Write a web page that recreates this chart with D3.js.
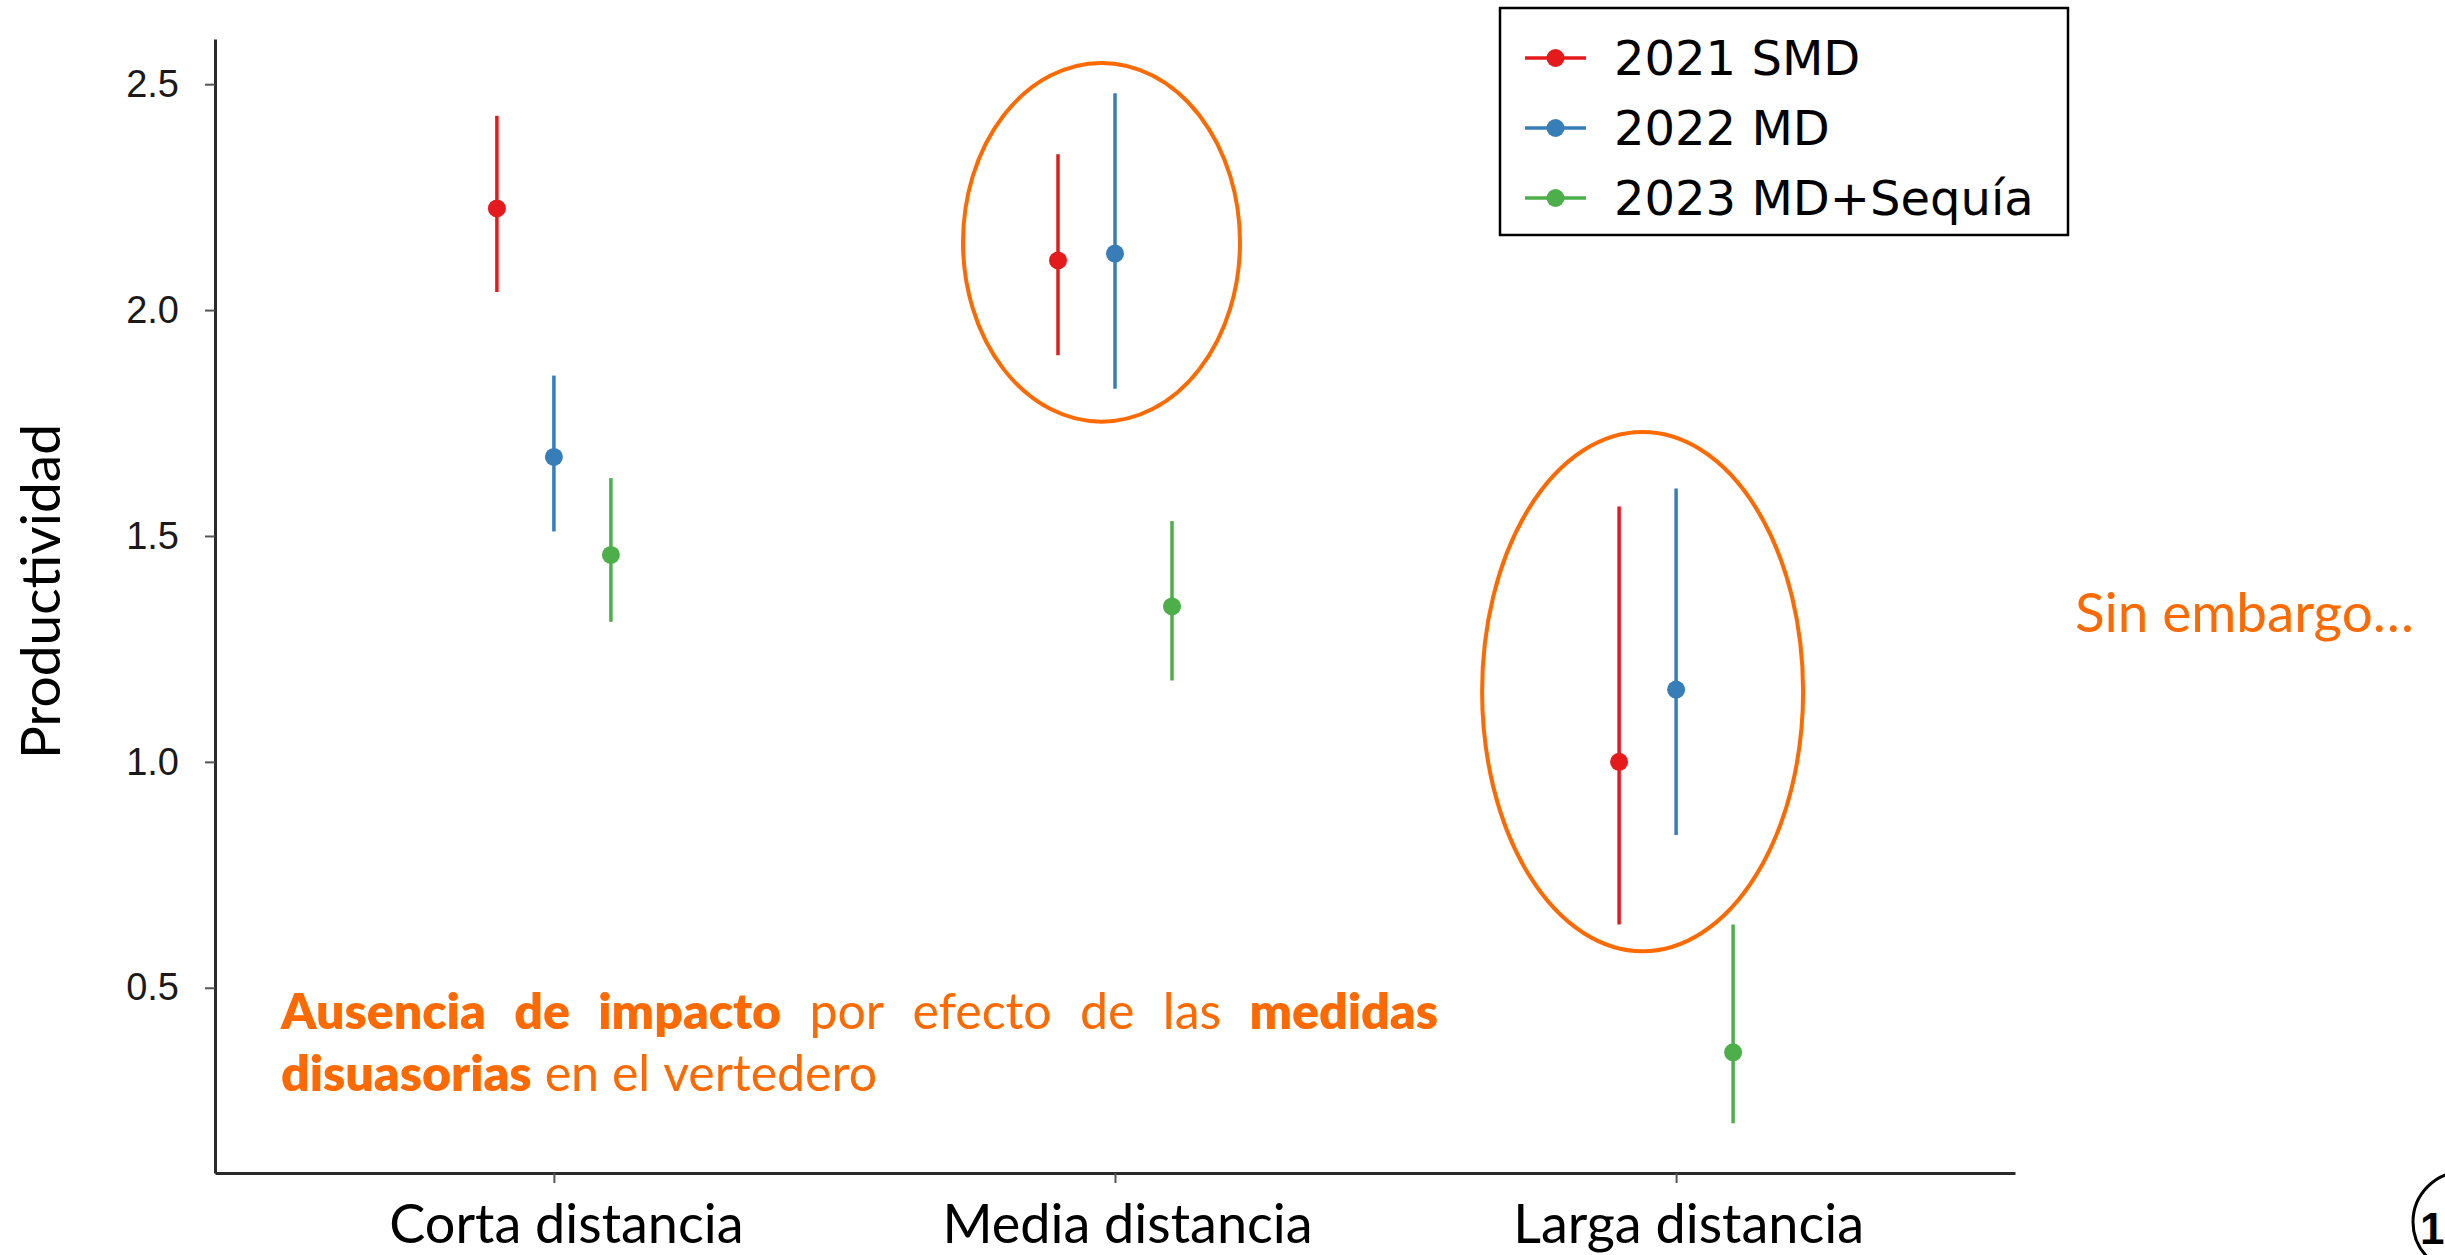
<!DOCTYPE html>
<html>
<head>
<meta charset="utf-8">
<script src="https://cdn.jsdelivr.net/npm/d3@7"></script>
<style>
  html, body { margin: 0; padding: 0; background: #fff; overflow: hidden; }
  svg { display: block; }
</style>
</head>
<body>
<svg id="chart" width="2445" height="1255"></svg>
<script>
// Productividad por distancia y campaña: media ± intervalo
const categories = ["Corta distancia", "Media distancia", "Larga distancia"];
const seriesNames = ["2021 SMD", "2022 MD", "2023 MD+Sequía"];

const smdMean  = [2.225, 2.110, 1.000];
const smdLow   = [2.040, 1.900, 0.640];
const smdHigh  = [2.430, 2.345, 1.565];

const mdMean   = [1.675, 2.125, 1.160];
const mdLow    = [1.510, 1.826, 0.838];
const mdHigh   = [1.855, 2.480, 1.605];

const seqMean  = [1.458, 1.344, 0.357];
const seqLow   = [1.310, 1.180, 0.200];
const seqHigh  = [1.628, 1.533, 0.640];

const yTicks = [0.5, 1.0, 1.5, 2.0, 2.5];
const yAxisTitle = "Productividad";
const sideNote = "Sin embargo…";
const notePage = "1";

// highlighted groups (category + value span of the outline)
const highlightCategories = ["Media distancia", "Larga distancia"];
const highlightTop    = [2.547, 1.730];
const highlightBottom = [1.753, 0.581];

// annotation: [text, bold]
const noteLine1 = [["Ausencia", true], ["de", true], ["impacto", true], ["por", false],
                   ["efecto", false], ["de", false], ["las", false], ["medidas", true]];
const noteLine2 = [["disuasorias", true], ["en", false], ["el", false], ["vertedero", false]];

const seriesColors = ["#E41A1C", "#377EB8", "#4DAF4A"];
const orange = "#FF6A00";

const series = [
  { name: seriesNames[0], mean: smdMean, low: smdLow, high: smdHigh },
  { name: seriesNames[1], mean: mdMean,  low: mdLow,  high: mdHigh },
  { name: seriesNames[2], mean: seqMean, low: seqLow, high: seqHigh }
];

const svg = d3.select("#chart");
const plot = { left: 215, right: 2015, top: 39, bottom: 1173 };

const x = d3.scalePoint().domain(categories).range([plot.left, plot.right]).padding(0.604);
const dodge = d3.scalePoint().domain(seriesNames).range([-57, 57]);
const y = d3.scaleLinear().domain([0.09, 2.6]).range([plot.bottom, plot.top]);
const color = d3.scaleOrdinal().domain(seriesNames).range(seriesColors);

function fitWidth(sel, width) {
  const node = sel.node();
  const fs = parseFloat(sel.attr("font-size"));
  const w = node.getComputedTextLength();
  sel.attr("font-size", (fs * width / w).toFixed(2));
}

// Y axis
const yAxis = svg.append("g")
  .attr("transform", `translate(${plot.left},0)`)
  .call(d3.axisLeft(y).tickValues(yTicks).tickFormat(d3.format(".1f")).tickSize(10).tickSizeOuter(0).tickPadding(26));
yAxis.select(".domain").attr("stroke", "#2a2a2a").attr("stroke-width", 3);
yAxis.selectAll(".tick line").attr("stroke", "#555").attr("stroke-width", 2);
yAxis.selectAll(".tick text")
  .attr("font-family", "'Liberation Sans', Arial, sans-serif")
  .attr("font-size", 38).attr("fill", "#1a1a1a");

// X axis
const xAxis = svg.append("g")
  .attr("transform", `translate(0,${plot.bottom})`)
  .call(d3.axisBottom(x).tickSize(10).tickSizeOuter(0));
xAxis.select(".domain").attr("stroke", "#2a2a2a").attr("stroke-width", 3);
xAxis.selectAll(".tick line").attr("stroke", "#555").attr("stroke-width", 2);
xAxis.selectAll(".tick text")
  .attr("font-family", "Lato, 'Open Sans', sans-serif")
  .attr("font-size", 54).attr("fill", "#000")
  .attr("dx", 12).attr("y", 70).attr("dy", 0);

// Y axis title
const yTitle = svg.append("text")
  .attr("transform", `translate(60,${(424 + 759) / 2}) rotate(-90)`)
  .attr("text-anchor", "middle")
  .attr("font-family", "Lato, 'Open Sans', sans-serif")
  .attr("font-size", 54).attr("fill", "#000")
  .text(yAxisTitle);
fitWidth(yTitle, 335);

// Error bars and means
const groups = svg.append("g").selectAll("g")
  .data(series).join("g")
  .attr("fill", d => color(d.name))
  .attr("stroke", d => color(d.name));

groups.selectAll("line")
  .data(d => categories.map((c, i) => ({ c, s: d.name, lo: d.low[i], hi: d.high[i] })))
  .join("line")
  .attr("x1", d => x(d.c) + dodge(d.s)).attr("x2", d => x(d.c) + dodge(d.s))
  .attr("y1", d => y(d.lo)).attr("y2", d => y(d.hi))
  .attr("stroke-width", 3.5);

groups.selectAll("circle")
  .data(d => categories.map((c, i) => ({ c, s: d.name, m: d.mean[i] })))
  .join("circle")
  .attr("cx", d => x(d.c) + dodge(d.s))
  .attr("cy", d => y(d.m))
  .attr("r", 9).attr("stroke", "none");

// Highlight outlines
const hlLeft = [-152, -194], hlRight = [125, 127];
highlightCategories.forEach((c, i) => {
  const x0 = x(c) + hlLeft[i], x1 = x(c) + hlRight[i];
  const y0 = y(highlightTop[i]), y1 = y(highlightBottom[i]);
  svg.append("ellipse")
    .attr("cx", (x0 + x1) / 2).attr("cy", (y0 + y1) / 2)
    .attr("rx", (x1 - x0) / 2).attr("ry", (y1 - y0) / 2)
    .attr("fill", "none").attr("stroke", orange).attr("stroke-width", 4);
});

// Legend
const legend = svg.append("g");
legend.append("rect")
  .attr("x", 1500).attr("y", 8).attr("width", 568).attr("height", 227)
  .attr("fill", "#fff").attr("stroke", "#000").attr("stroke-width", 2.5);
const items = legend.selectAll("g.item").data(seriesNames).join("g")
  .attr("class", "item")
  .attr("transform", (d, i) => `translate(0,${58 + i * 70})`);
items.append("line").attr("x1", 1525).attr("x2", 1586)
  .attr("stroke", d => color(d)).attr("stroke-width", 3.5);
items.append("circle").attr("cx", 1555.5).attr("r", 9).attr("fill", d => color(d));
items.append("text").attr("x", 1614).attr("y", 17)
  .attr("font-family", "'DejaVu Sans', Verdana, sans-serif")
  .attr("font-size", 48).attr("fill", "#000")
  .text(d => d);

// Annotation in the lower-left of the plot
const noteFont = "Lato, 'Open Sans', sans-serif";
function noteRow(words, yBase, x0, justifyTo) {
  const g = svg.append("g");
  const nodes = words.map(([w, b]) => g.append("text")
    .attr("y", yBase).attr("font-family", noteFont).attr("font-size", 50)
    .attr("font-weight", b ? 800 : 400).attr("fill", orange).text(w));
  const widths = nodes.map(n => n.node().getComputedTextLength());
  const total = d3.sum(widths);
  const gap = justifyTo ? (justifyTo - x0 - total) / (words.length - 1) : 13;
  let cx = x0;
  nodes.forEach((n, i) => { n.attr("x", cx); cx += widths[i] + gap; });
}
noteRow(noteLine1, 1029, 281, 1438);
noteRow(noteLine2, 1091, 281, null);

// Side note
const side = svg.append("text")
  .attr("x", 2075).attr("y", 632)
  .attr("font-family", noteFont).attr("font-size", 44).attr("fill", orange)
  .text(sideNote);
fitWidth(side, 339);

// Page marker
svg.append("circle").attr("cx", 2463).attr("cy", 1222).attr("r", 50)
  .attr("fill", "none").attr("stroke", "#000").attr("stroke-width", 3);
svg.append("text").attr("x", 2420).attr("y", 1244)
  .attr("font-family", "'Liberation Sans', Arial, sans-serif")
  .attr("font-weight", 700).attr("font-size", 44).attr("fill", "#000")
  .text(notePage);
</script>
</body>
</html>
